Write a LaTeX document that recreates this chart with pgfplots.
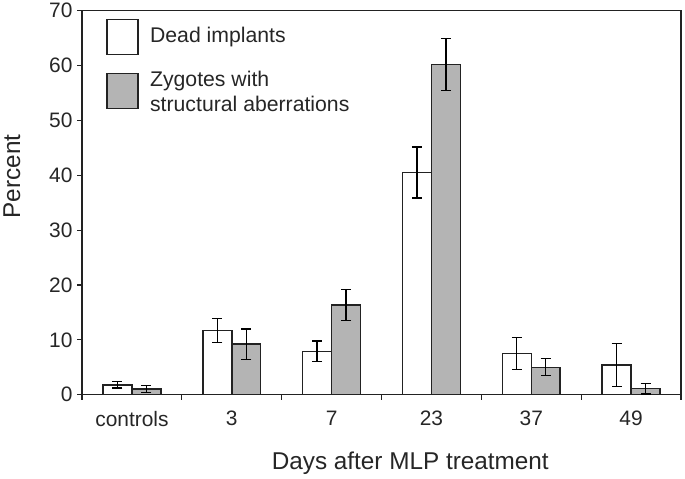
\documentclass[border=0pt]{standalone}
\usepackage{fontspec}
\setmainfont{Liberation Sans}
\usepackage{pgfplots}
\pgfplotsset{compat=1.18}
\definecolor{edge}{HTML}{222222}
\definecolor{barfill}{HTML}{B4B4B4}
\begin{document}
\begin{tikzpicture}
\begin{axis}[
  name=ax,
  scale only axis,
  width=599bp, height=384bp,
  xmin=-0.5, xmax=5.5,
  ymin=0, ymax=70,
  ytick={0,10,...,70},
  xtick={-0.5,0.5,...,5.5},
  x tick label as interval,
  xticklabels={controls,3,7,23,37,49},
  tick align=outside,
  xtick pos=bottom, ytick pos=left,
  major tick length=5bp,
  tick style={edge, line width=1.2bp},
  axis line style={edge, line width=1.4bp},
  /pgf/number format/assume math mode=true,
  tick label style={font=\fontsize{21}{23}\selectfont, text=black!85},
  yticklabel style={xshift=-1bp},
  xticklabel style={yshift=-8bp},
  xlabel={Days after MLP treatment},
  ylabel={Percent},
  label style={font=\fontsize{24.4}{26}\selectfont, text=black!85},
  xlabel style={at={(axis description cs:0.548,0)}, anchor=base, yshift=-75bp},
  ylabel style={at={(axis description cs:-0.1035,0.568)}, anchor=base, rotate=0},
  ybar, bar width=0.29,
  every axis plot/.append style={draw=edge, line width=1.5bp},
  error bars/y dir=both, error bars/y explicit,
  error bars/error bar style={black, line width=1.4bp},
  error bars/error mark options={black, line width=1.4bp, mark size=5bp, rotate=90},
  clip=false,
]
\addplot[fill=white, bar shift=-0.145] coordinates {
  (0,1.8) +- (0,0.6)
  (1,11.7) +- (0,2.2)
  (2,7.9) +- (0,1.9)
  (3,40.5) +- (0,4.65)
  (4,7.5) +- (0,2.9)
  (5,5.4) +- (0,3.95)
};
\addplot[fill=barfill, bar shift=0.145] coordinates {
  (0,1.0) +- (0,0.65)
  (1,9.2) +- (0,2.8)
  (2,16.35) +- (0,2.85)
  (3,60.2) +- (0,4.7)
  (4,5.0) +- (0,1.55)
  (5,1.1) +- (0,0.95)
};
% legend
\draw[edge, line width=1.5bp, fill=white] (axis cs:-0.25,61.98) rectangle (axis cs:0.06,68.36);
\draw[edge, line width=1.5bp, fill=barfill] (axis cs:-0.25,52.14) rectangle (axis cs:0.06,58.52);
\node[anchor=west, inner sep=0pt, font=\fontsize{21.3}{25}\selectfont, text=black!85]
  at (axis cs:0.18,65.17) {Dead implants};
\node[anchor=west, inner sep=0pt, align=left, font=\fontsize{21.3}{25}\selectfont, text=black!85]
  at (axis cs:0.18,55.33) {Zygotes with\\structural aberrations};
\end{axis}
\path ([shift={(-82bp,-83bp)}]ax.south west) rectangle ([shift={(4bp,9bp)}]ax.north east);
\end{tikzpicture}
\end{document}
